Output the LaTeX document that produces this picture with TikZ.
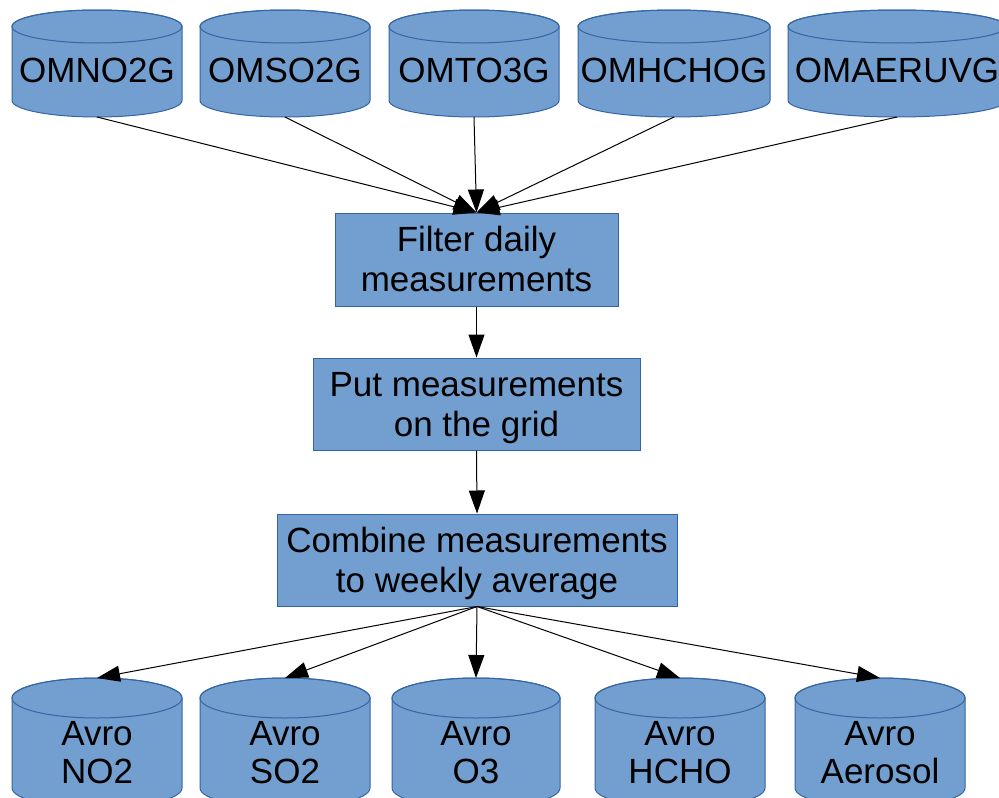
\documentclass[tikz,border=0pt]{standalone}
\usepackage{fontspec}
\setmainfont{Liberation Sans}
\usetikzlibrary{arrows.meta}
\definecolor{dbfill}{HTML}{729FCF}
\definecolor{dbline}{HTML}{3465A4}
\newcommand{\fontstrut}{\rule[-7.4pt]{0pt}{39.1pt}}
\tikzset{
  dbshape/.style={fill=dbfill, draw=dbline, line width=1pt},
  labeltext/.style={inner sep=0pt, align=center, font=\fontsize{35pt}{38pt}\selectfont},
  procbox/.style={rectangle, fill=dbfill, draw=dbline, line width=1pt, inner sep=2pt,
     align=center, font=\fontsize{35pt}{38pt}\selectfont},
  flow/.style={draw=black, line width=1pt, -{Triangle[length=23pt,width=16pt]}}
}
% #1 name, #2 left, #3 right, #4 top ellipse centre y, #5 bottom ellipse centre y,
% #6 ellipse y radius, #7 text centre y, #8 text   (all in pixels, y downward)
\newcommand{\dbcyl}[8]{%
  \pgfmathsetmacro{\cylcx}{(#2+#3)/2}%
  \pgfmathsetmacro{\cylrx}{(#3-#2)/2}%
  \filldraw[dbshape] (#2,-#4) -- (#2,-#5)
     arc[start angle=180,end angle=360,x radius=\cylrx pt,y radius=#6pt]
     -- (#3,-#4)
     arc[start angle=0,end angle=180,x radius=\cylrx pt,y radius=#6pt] -- cycle;
  \draw[dbshape, fill=none] (\cylcx,-#4) ellipse[x radius=\cylrx pt, y radius=#6pt];
  \coordinate (#1-top) at (\cylcx,{-#4+#6});
  \coordinate (#1-bot) at (\cylcx,{-#5-#6});
  \node[labeltext] (#1) at (\cylcx,-#7) {#8};
}
\begin{document}
\begin{tikzpicture}[x=1pt,y=1pt]
\useasboundingbox (0,0) rectangle (999,-798);

% source cylinders
\dbcyl{omno}{12}{182}{26.5}{100.5}{16.5}{70.5}{OMNO2G}
\dbcyl{omso}{200}{370}{26.5}{100.5}{16.5}{70.5}{OMSO2G}
\dbcyl{omto}{389}{559}{26.5}{100.5}{16.5}{70.5}{OMTO3G}
\dbcyl{omhc}{578}{770}{26.5}{100.5}{16.5}{70.5}{OMHCHOG}
\dbcyl{omae}{788}{1006}{26.5}{100.5}{16.5}{70.5}{OMAERUVG}

% process boxes
\node[procbox, minimum width=283pt, minimum height=93pt] (filter) at (476.5,-259.5)
  {\fontstrut Filter daily\\\fontstrut measurements};
\node[procbox, minimum width=327pt, minimum height=92pt] (grid) at (476.5,-404)
  {\fontstrut Put measurements\\\fontstrut on the grid};
\node[procbox, minimum width=400pt, minimum height=92pt] (combine) at (477,-560)
  {\fontstrut Combine measurements\\\fontstrut to weekly average};

% output cylinders
\dbcyl{avno}{12}{182}{698}{788}{20}{752.5}{Avro\\NO2}
\dbcyl{avso}{200}{370}{698}{788}{20}{752.5}{Avro\\SO2}
\dbcyl{avo}{392}{560}{698}{788}{20}{752.5}{Avro\\O3}
\dbcyl{avhc}{595}{765}{698}{788}{20}{752.5}{Avro\\HCHO}
\dbcyl{avae}{795}{965}{698}{788}{20}{752.5}{Avro\\Aerosol}

% connectors
\foreach \s in {omno,omso,omto,omhc,omae}
  \draw[flow] (\s-bot) -- (filter.north);
\draw[flow] (filter.south) -- (grid.north);
\draw[flow] (grid.south) -- (combine.north);
\foreach \t in {avno,avso,avo,avhc,avae}
  \draw[flow] (combine.south) -- (\t-top);
\end{tikzpicture}
\end{document}
